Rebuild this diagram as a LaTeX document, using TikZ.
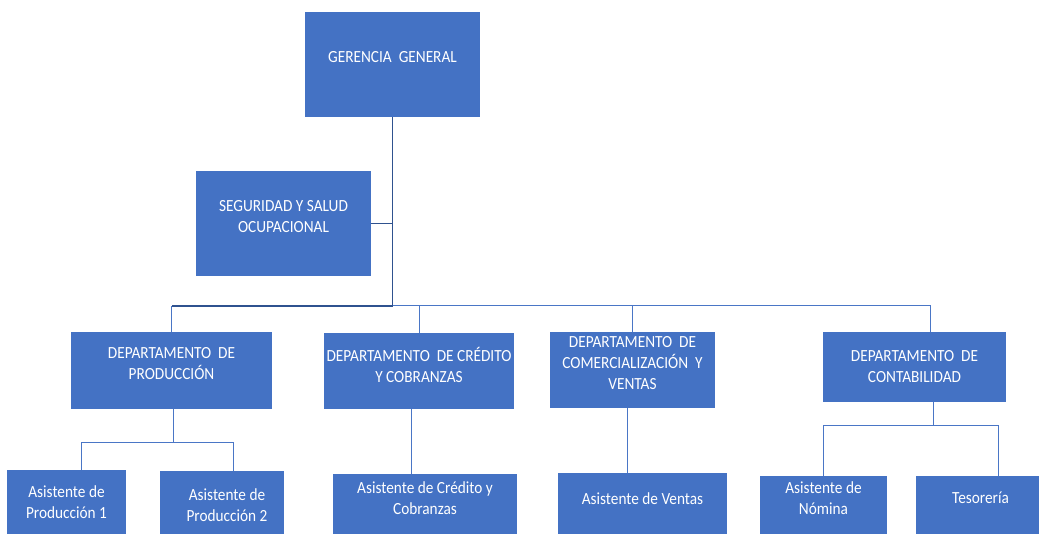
\documentclass[tikz,border=0pt]{standalone}
\usepackage{fontspec}
\setmainfont{Carlito}[FakeStretch=0.9]
\usepackage{tikz}
\usetikzlibrary{calc}
\definecolor{azul}{HTML}{4472C4}
\definecolor{azuloscuro}{HTML}{2F528F}
\definecolor{azullinea}{HTML}{4A76C6}
\tikzset{
	caja/.style={fill=azul, draw=none, outer sep=0pt, inner sep=0pt},
	txt/.style={text=white, align=center, inner sep=0pt, font=\fontsize{17}{21}\selectfont},
	linea/.style={line width=1pt, draw=azullinea},
	lineaosc/.style={line width=1.6pt, draw=azuloscuro}
}
\begin{document}
\begin{tikzpicture}[x=1pt, y=-1pt]
		\useasboundingbox (0,0) rectangle (1039,534);
		
		% cajas
		\node (gg) at (392.5,64.5) [caja, minimum width=175, minimum height=105, label={[txt, name=ggt, yshift=7.5]center:GERENCIA\ \ GENERAL}] {};
		\node (seg) at (283.5,223.5) [caja, minimum width=175, minimum height=105, label={[txt, name=segt, yshift=7]center:SEGURIDAD Y SALUD\\OCUPACIONAL}] {};
		
		\node (prod) at (171.5,370.5) [caja, minimum width=201, minimum height=77, label={[txt, name=prodt, yshift=6.5]center:DEPARTAMENTO\ \ DE\\PRODUCCIÓN}] {};
		\node (cred) at (419,371) [caja, minimum width=190, minimum height=76, label={[txt, name=credt, yshift=6.5]center:DEPARTAMENTO\ \ DE CRÉDITO\\Y COBRANZAS}] {};
		\node (com) at (632.5,370) [caja, minimum width=165, minimum height=76, label={[txt, name=comt, yshift=7]center:DEPARTAMENTO\ \ DE\\COMERCIALIZACIÓN\ \ Y\\VENTAS}] {};
		\node (cont) at (914.5,367) [caja, minimum width=183, minimum height=70, label={[txt, name=contt]center:DEPARTAMENTO\ \ DE\\CONTABILIDAD}] {};
		
		\node (ap1) at (66.5,507.5) [caja, minimum width=119, minimum height=75, label={[txt, name=ap1t, yshift=5.5]center:Asistente de\\Producción 1}] {};
		\node (ap2) at (222,508) [caja, minimum width=124, minimum height=74, label={[txt, name=ap2t, xshift=5, yshift=3]center:Asistente de\\Producción 2}] {};
		\node (acr) at (425,509.5) [caja, minimum width=184, minimum height=71, label={[txt, name=acrt, yshift=11.5]center:Asistente de Crédito y\\Cobranzas}] {};
		\node (av) at (642.5,509) [caja, minimum width=169, minimum height=72, label={[txt, name=avt, yshift=10]center:Asistente de Ventas}] {};
		\node (an) at (823.5,510.5) [caja, minimum width=127, minimum height=69, label={[txt, name=ant, yshift=12]center:Asistente de\\Nómina}] {};
		\node (tes) at (980.5,510.5) [caja, minimum width=129, minimum height=69, label={[txt, name=test, yshift=12.5]center:Tesorería}] {};
		
		% lineas
		\coordinate (bus) at (392.5,306);
		\coordinate (pcont) at (930,306);
		\draw[lineaosc] (gg.south) -- (bus);
		\draw[lineaosc] (seg.east) -- (seg.east -| gg.south);
		\draw[line width=1.3pt, draw=azuloscuro] (bus) -- (prod.north |- bus);
		\draw[linea] (bus) -- (pcont) -- (pcont |- cont.north);
		\draw[linea] (prod.north |- bus) -- (prod.north);
		\draw[linea] (cred.north |- bus) -- (cred.north);
		\draw[linea] (com.north |- bus) -- (com.north);
		
		\coordinate (sp) at (173,443);
		\coordinate (sp1) at (81,443);
		\coordinate (sp2) at (233,443);
		\draw[linea] (prod.south -| sp) -- (sp);
		\draw[linea] (ap1.north -| sp1) -- (sp1) -- (sp2) -- (ap2.north -| sp2);
		
		\coordinate (sc) at (411,0);
		\draw[linea] (cred.south -| sc) -- (acr.north -| sc);
		\coordinate (sv) at (627,0);
		\draw[linea] (com.south -| sv) -- (av.north -| sv);
		
		\coordinate (st) at (933,426);
		\coordinate (st2) at (998,426);
		\draw[linea] (cont.south -| st) -- (st);
		\draw[linea] (an.north) -- (an.north |- st) -- (st2) -- (tes.north -| st2);
	\end{tikzpicture}
\end{document}
